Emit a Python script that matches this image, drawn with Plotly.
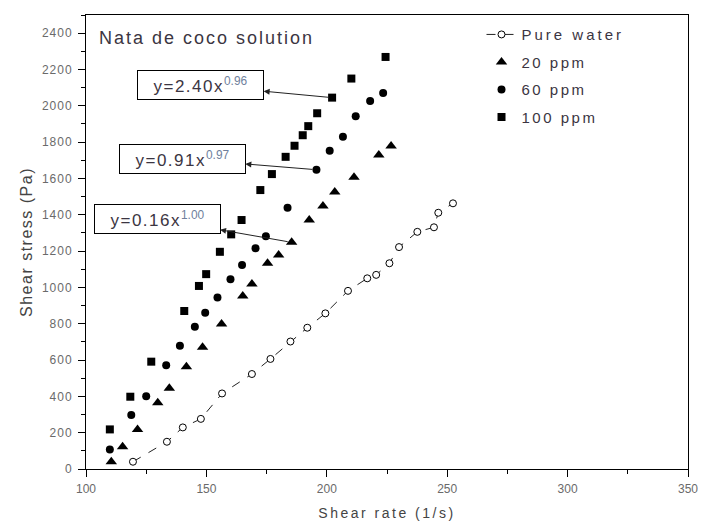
import plotly.graph_objects as go

# ---------------- data ----------------
water_x = [119.5, 133.6, 140.2, 147.7, 156.5, 168.9, 176.6, 184.9, 191.9, 199.4,
           208.8, 216.8, 220.5, 226.0, 230.0, 237.6, 244.5, 246.3, 252.4]
water_y = [40, 150, 229, 276, 416, 523, 606, 702, 778, 857,
           981, 1050, 1069, 1133, 1222, 1306, 1331, 1411, 1463]

ppm20_x = [110.5, 115.2, 121.4, 129.8, 134.6, 141.7, 148.4, 156.3, 165.1, 168.9,
           175.4, 180.0, 185.4, 192.7, 198.4, 203.3, 211.3, 221.6, 226.7]
ppm20_y = [40, 123, 218, 365, 444, 563, 670, 798, 952, 1019,
           1133, 1178, 1248, 1371, 1448, 1526, 1607, 1729, 1778]

ppm60_x = [109.9, 118.8, 125.0, 133.3, 139.0, 145.2, 149.5, 154.6, 160.0, 164.8,
           170.4, 174.7, 183.7, 195.7, 201.2, 206.7, 212.0, 218.0, 223.4]
ppm60_y = [108, 297, 401, 571, 679, 783, 860, 945, 1045, 1123,
           1215, 1282, 1439, 1648, 1752, 1830, 1943, 2026, 2071]

ppm100_x = [109.9, 118.4, 127.1, 140.8, 146.9, 149.9, 155.6, 160.3, 164.6, 172.4,
            177.2, 182.9, 186.6, 190.0, 192.3, 196.0, 202.2, 210.2, 224.4]
ppm100_y = [218, 398, 591, 870, 1008, 1073, 1196, 1292, 1371, 1536,
            1624, 1719, 1780, 1838, 1888, 1959, 2045, 2150, 2269]

x_ticks = [100, 150, 200, 250, 300, 350]
y_ticks = [0, 200, 400, 600, 800, 1000, 1200, 1400, 1600, 1800, 2000, 2200, 2400]

series_names = ["Pure water", "20 ppm", "60 ppm", "100 ppm"]
fit_labels = ["y=2.40x", "y=0.91x", "y=0.16x"]
fit_powers = ["0.96", "0.97", "1.00"]
chart_title = "Nata de coco solution"
x_title = "Shear rate (1/s)"
y_title = "Shear stress (Pa)"

TXT = "#3b3542"
FONT = "Arial, Liberation Sans, sans-serif"


def spaced(t, px):
    return f"<span style='letter-spacing:{px}px'>{t}</span>"


fig = go.Figure()

fig.add_trace(go.Scatter(
    x=water_x, y=water_y, name=spaced(series_names[0], 3), mode="lines+markers",
    line=dict(color="#222222", width=1, dash="dash"),
    marker=dict(symbol="circle", size=7, color="white", line=dict(color="black", width=1)),
    legendgroup="g1"))
fig.add_trace(go.Scatter(
    x=ppm20_x, y=ppm20_y, name=spaced(series_names[1], 2.5), mode="markers",
    marker=dict(symbol="triangle-up", size=10, color="black"), legendgroup="g2"))
fig.add_trace(go.Scatter(
    x=ppm60_x, y=ppm60_y, name=spaced(series_names[2], 2.5), mode="markers",
    marker=dict(symbol="circle", size=8, color="black"), legendgroup="g3"))
fig.add_trace(go.Scatter(
    x=ppm100_x, y=ppm100_y, name=spaced(series_names[3], 2.5), mode="markers",
    marker=dict(symbol="square", size=8, color="black"), legendgroup="g4"))

# fit equation callouts: arrow from a data point to a boxed label
anchors = [(ppm100_x[16], ppm100_y[16], 147.6, 2113),
           (ppm60_x[13], ppm60_y[13], 140.0, 1708),
           (ppm20_x[12], ppm20_y[12], 129.5, 1378)]
for (px, py, tx, ty), lab, pw in zip(anchors, fit_labels, fit_powers):
    fig.add_annotation(
        x=px, y=py, ax=tx, ay=ty, axref="x", ayref="y", xref="x", yref="y",
        text=spaced(lab, 1.5) + f"<sup><span style='color:#6f7f9c'>{pw}</span></sup>",
        showarrow=True, arrowside="start", startarrowhead=2, startarrowsize=1.2,
        arrowwidth=1, arrowcolor="#222222", standoff=4,
        font=dict(family=FONT, size=17, color=TXT),
        bordercolor="black", borderwidth=1, borderpad=2, bgcolor="white",
        width=121, height=24, align="center")

fig.add_annotation(
    x=(97 - 86) / 603, y=1 - (38 - 15) / 454, xref="paper", yref="paper",
    text=spaced(chart_title, 2), showarrow=False,
    font=dict(family=FONT, size=18, color=TXT), xanchor="left", yanchor="middle")

# page body has an 8px margin, so the figure is sized/offset to compensate
fig.update_layout(
    width=698, height=513,
    margin=dict(l=78, r=18, t=7, b=52, autoexpand=False),
    paper_bgcolor="white", plot_bgcolor="white",
    font=dict(family=FONT, color=TXT),
    showlegend=True,
    legend=dict(x=0.657, y=0.993, xanchor="left", yanchor="top",
                bgcolor="rgba(0,0,0,0)", font=dict(family=FONT, size=15, color=TXT),
                tracegroupgap=5, traceorder="grouped"),
)

fig.update_xaxes(
    range=[100, 350], tickvals=x_ticks, ticktext=[str(v) for v in x_ticks],
    showgrid=False, zeroline=False, ticklabeloverflow="allow",
    showline=True, linecolor="black", linewidth=1, mirror=True, automargin=False,
    ticks="outside", ticklen=7, tickcolor="black", ticklabelstandoff=2,
    minor=dict(dtick=25, ticks="outside", ticklen=4, tickcolor="black", showgrid=False),
    tickfont=dict(family=FONT, size=12, color="#6a6a6a"),
    title=dict(text=spaced(x_title, 2.5), font=dict(family=FONT, size=14, color="#444444"),
               standoff=12))
fig.update_yaxes(
    range=[0, 2500], tickvals=y_ticks, ticktext=[spaced(str(v), 1) for v in y_ticks],
    showgrid=False, zeroline=False, ticklabeloverflow="allow",
    showline=True, linecolor="black", linewidth=1, mirror=True, automargin=False,
    ticks="outside", ticklen=7, tickcolor="black", ticklabelstandoff=3,
    minor=dict(dtick=100, ticks="outside", ticklen=4, tickcolor="black", showgrid=False),
    tickfont=dict(family=FONT, size=12, color="#6a6a6a"),
    title=dict(text=spaced(y_title, 1.5), font=dict(family=FONT, size=16, color="#444444"),
               standoff=5))

fig.write_html("out.html")
